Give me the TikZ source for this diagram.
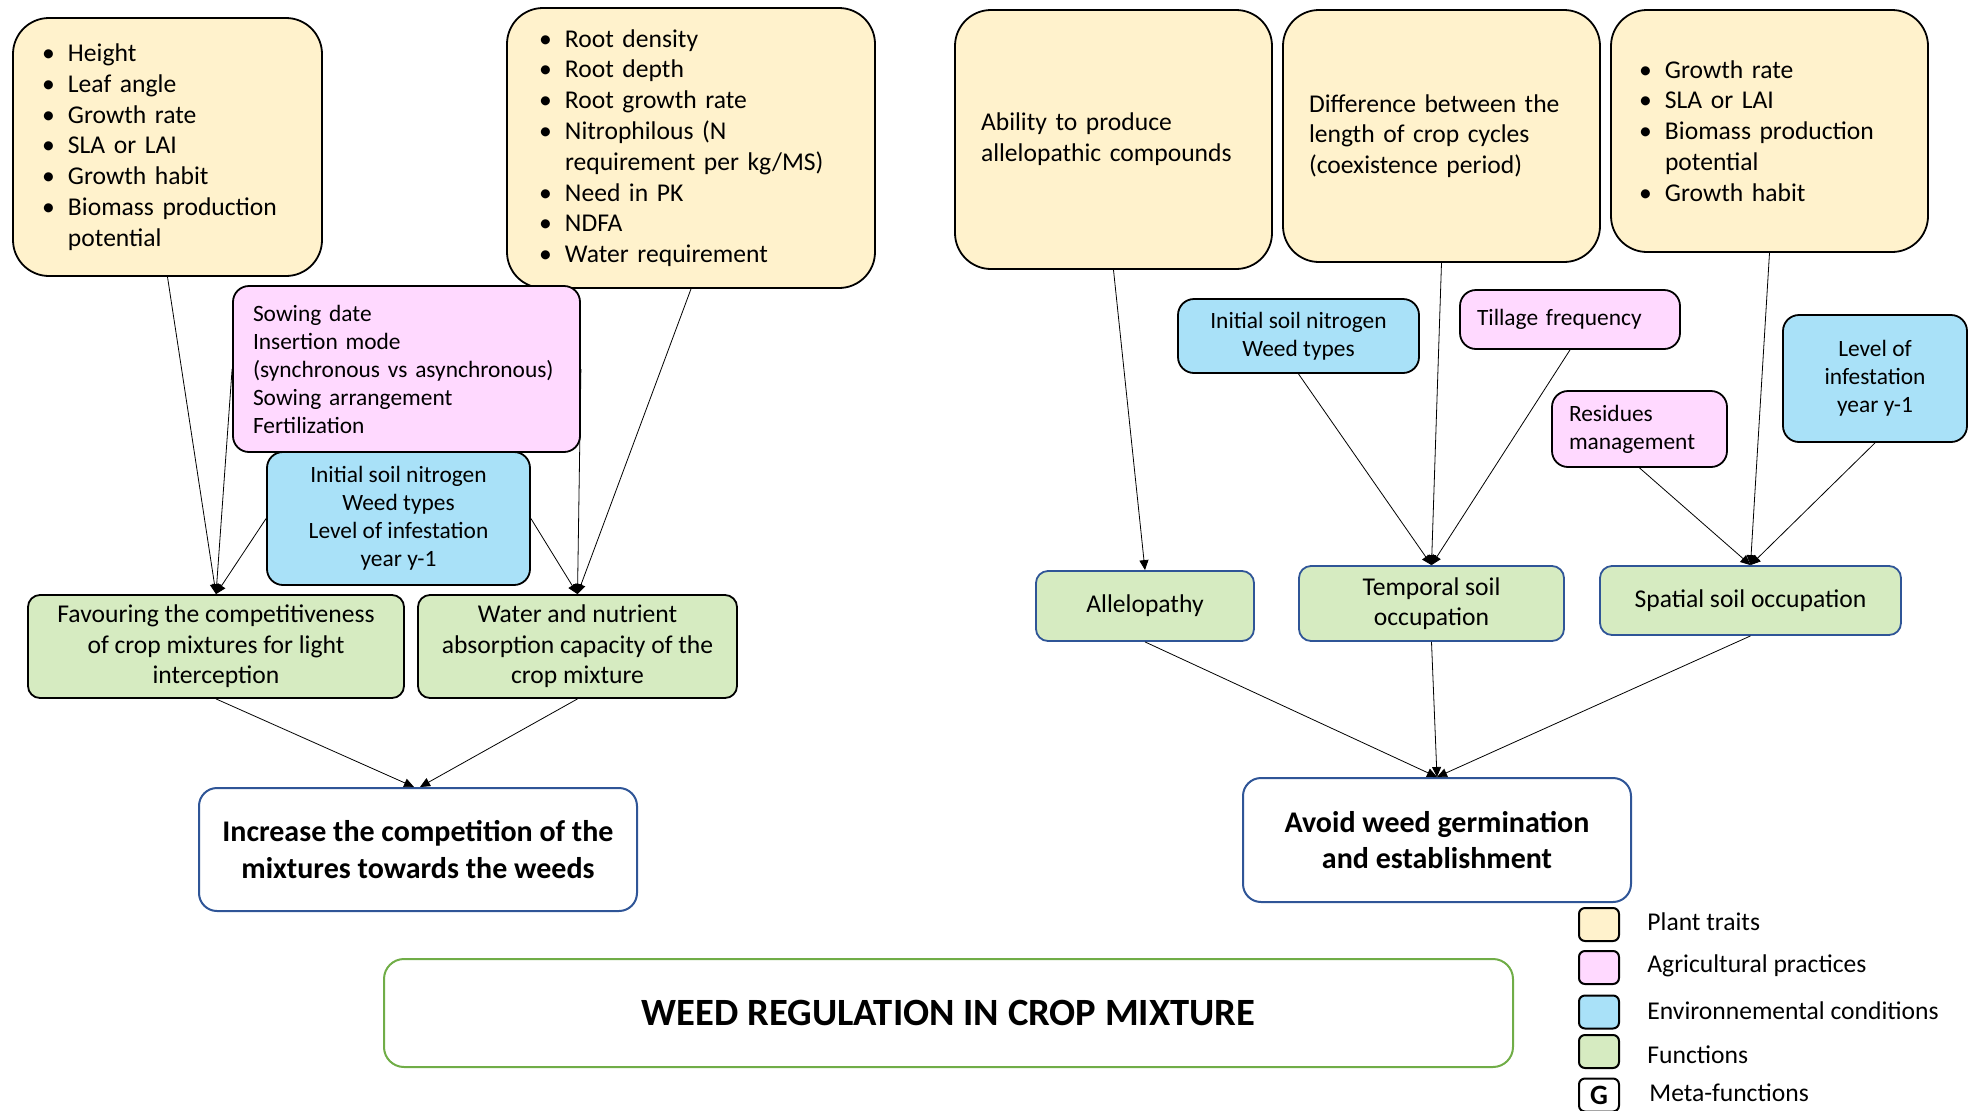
\documentclass[tikz,border=0pt]{standalone}
\usepackage{fontspec}
\setmainfont{Carlito}
\usetikzlibrary{arrows.meta}
\definecolor{traitfill}{HTML}{FFF2CC}
\definecolor{practfill}{HTML}{FFD9FF}
\definecolor{envfill}{HTML}{A9E1F8}
\definecolor{funcfill}{HTML}{D6EBC1}
\definecolor{funcblue}{HTML}{2F5597}
\definecolor{titlegreen}{HTML}{70AD47}
\newcommand{\bul}{\makebox[13pt][l]{\textbullet}}
\newcommand{\ind}{\hspace*{13pt}}
\begin{document}
\begin{tikzpicture}
	[	x=0.5pt,y=-0.5pt,
	trait/.style={rectangle,draw=black,fill=traitfill,line width=0.9pt,rounded corners=18pt,align=left,font=\fontsize{12.8}{15.4}\selectfont},
	pract/.style={rectangle,draw=black,fill=practfill,line width=0.9pt,rounded corners=8pt,align=left,font=\fontsize{11.7}{14}\selectfont},
	env/.style={rectangle,draw=black,fill=envfill,line width=0.9pt,rounded corners=8pt,align=center,font=\fontsize{11.7}{14}\selectfont},
	func/.style={rectangle,draw=black,fill=funcfill,line width=0.9pt,rounded corners=6pt,align=center,font=\fontsize{12.8}{15.2}\selectfont},
	meta/.style={rectangle,draw=funcblue,fill=white,line width=1pt,rounded corners=9pt,align=center,font=\bfseries\fontsize{15}{18.3}\selectfont},
	key/.style={rectangle,draw=black,line width=1pt,rounded corners=3pt,minimum width=20pt,minimum height=16.5pt,inner sep=0pt},
	keytext/.style={anchor=west,inner xsep=0pt,font=\fontsize{12.8}{15.4}\selectfont},
	link/.style={-{Triangle[length=5pt,width=4.5pt]},line width=0.4pt}
	]
	\useasboundingbox (0,0) rectangle (1978,1110);

	% left half
	\node[trait,text width=125.5pt,inner xsep=14.5pt,minimum height=129pt] (lighttr) at (167.5,147)
		{\bul Height\\ \bul Leaf angle\\ \bul Growth rate\\ \bul SLA or LAI\\ \bul Growth habit\\ \bul Biomass production\\ \ind potential};
	\node[trait,text width=152pt,inner xsep=16pt,minimum height=140pt] (roottr) at (691,148)
		{\bul Root density\\ \bul Root depth\\ \bul Root growth rate\\ \bul Nitrophilous (N\\ \ind requirement per kg/MS)\\ \bul Need in PK\\ \bul NDFA\\ \bul Water requirement};
	\node[pract,text width=153.5pt,inner xsep=10pt,minimum height=83pt] (sowing) at (406.5,369)
		{Sowing date\\ Insertion mode\\ (synchronous vs asynchronous)\\ Sowing arrangement\\ Fertilization};
	\node[env,minimum width=131.5pt,minimum height=66.5pt] (envleft) at (398.5,518.5)
		{Initial soil nitrogen\\ Weed types\\ Level of infestation\\ year y-1};
	\node[func,minimum width=188pt,minimum height=51.5pt,inner ysep=1pt] (light) at (216,646.5)
		{Favouring the competitiveness\\ of crop mixtures for light\\ interception};
	\node[func,minimum width=159.5pt,minimum height=51.5pt,inner ysep=1pt] (water) at (577.5,646.5)
		{Water and nutrient\\ absorption capacity of the\\ crop mixture};
	\node[meta,minimum width=219pt,minimum height=61.5pt] (compet) at (418,849.5)
		{Increase the competition of the\\ mixtures towards the weeds};

	% right half
	\node[trait,text width=132.5pt,inner xsep=13pt,minimum height=129.5pt] (allelotr) at (1113.5,139.5)
		{Ability to produce\\ allelopathic compounds};
	\node[trait,text width=132.5pt,inner xsep=13pt,minimum height=126pt] (cycles) at (1441.5,136)
		{Difference between the\\ length of crop cycles\\ (coexistence period)};
	\node[trait,text width=130.5pt,inner xsep=14pt,minimum height=121pt] (spacetr) at (1769.5,131)
		{\bul Growth rate\\ \bul SLA or LAI\\ \bul Biomass production\\ \ind potential\\ \bul Growth habit};
	\node[env,minimum width=120.5pt,minimum height=37pt] (envmid) at (1298.5,336)
		{Initial soil nitrogen\\ Weed types};
	\node[pract,text width=93pt,inner xsep=8.5pt,minimum height=29.5pt] (tillage) at (1570,319.5)
		{Tillage frequency};
	\node[pract,text width=70.5pt,inner xsep=8.5pt,minimum height=38pt] (residues) at (1639.5,429)
		{Residues\\ management};
	\node[env,minimum width=92pt,minimum height=63.5pt] (envright) at (1875,378.5)
		{Level of\\ infestation\\ year y-1};
	\node[func,draw=funcblue,minimum width=109pt,minimum height=35pt] (allelo) at (1145,606)
		{Allelopathy};
	\node[func,draw=funcblue,minimum width=132.5pt,minimum height=37.5pt,inner ysep=1pt] (temporal) at (1431.5,603.5)
		{Temporal soil\\ occupation};
	\node[func,draw=funcblue,minimum width=150.5pt,minimum height=34.5pt] (spatial) at (1750.5,600.5)
		{Spatial soil occupation};
	\node[meta,minimum width=194pt,minimum height=62pt] (germin) at (1437,840)
		{Avoid weed germination\\ and establishment};

	\node[rectangle,draw=titlegreen,line width=1pt,rounded corners=10pt,minimum width=564.5pt,minimum height=54pt,font=\bfseries\fontsize{19.3}{23}\selectfont] (title) at (948.5,1013)
		{WEED REGULATION IN CROP MIXTURE};

	% legend
	\node[key,fill=traitfill] (key1) at (1599,924.5){};
	\node[key,fill=practfill] (key2) at (1599,967.5){};
	\node[key,fill=envfill] (key3) at (1599,1012){};
	\node[key,fill=funcfill] (key4) at (1599,1051.5){};
	\node[key,fill=white,font=\bfseries\fontsize{14}{15}\selectfont] (key5) at (1599,1095){G};
	\node[keytext] (lab1) at (1647,922){Plant traits};
	\node[keytext] (lab2) at (1647,966){Agricultural practices};
	\node[keytext] (lab3) at (1647,1011){Environnemental conditions};
	\node[keytext] (lab4) at (1647,1055){Functions};
	\node[keytext] (lab5) at (1649,1093){Meta-functions};

	% connectors
	\draw[link] (lighttr.south) -- (light.north);
	\draw[link] (sowing.west) -- (light.north);
	\draw[link] (envleft.west) -- (light.north);
	\draw[link] (roottr.south) -- (water.north);
	\draw[link] (sowing.east) -- (water.north);
	\draw[link] (envleft.east) -- (water.north);
	\draw[link] (light.south) -- ([xshift=-2pt]compet.north);
	\draw[link] (water.south) -- ([xshift=1pt]compet.north);

	\draw[link] (allelotr.south) -- (allelo.north);
	\draw[link] (envmid.south) -- (temporal.north);
	\draw[link] (cycles.south) -- (temporal.north);
	\draw[link] (tillage.south) -- (temporal.north);
	\draw[link] (residues.south) -- (spatial.north);
	\draw[link] (spacetr.south) -- (spatial.north);
	\draw[link] (envright.south) -- (spatial.north);
	\draw[link] (allelo.south) -- (germin.north);
	\draw[link] (temporal.south) -- (germin.north);
	\draw[link] (spatial.south) -- (germin.north);
\end{tikzpicture}
\end{document}
